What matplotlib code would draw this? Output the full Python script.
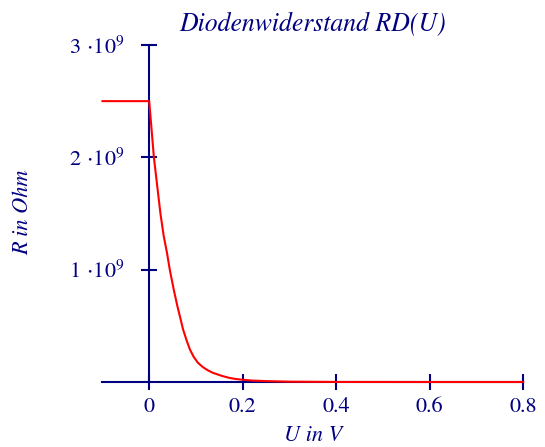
import matplotlib
matplotlib.use("Agg")
import matplotlib.pyplot as plt

# Data (R in units of 1e9 Ohm)
U = [-0.1, 0.0, 0.005, 0.010, 0.017, 0.024, 0.031, 0.038, 0.044, 0.0526, 0.060,
     0.0668, 0.0723, 0.080, 0.087, 0.095, 0.104, 0.115, 0.125, 0.136, 0.155,
     0.172, 0.185, 0.200, 0.220, 0.25, 0.30, 0.40, 0.60, 0.80]
R = [2.5, 2.5, 2.25, 2.0, 1.75, 1.50, 1.30, 1.15, 1.0, 0.82, 0.68,
     0.565, 0.47, 0.37, 0.29, 0.225, 0.172, 0.132, 0.105, 0.082, 0.055,
     0.036, 0.027, 0.020, 0.013, 0.008, 0.003, 0.0005, 0.0, 0.0]
R_ohm = [r * 1e9 for r in R]

xticks = [0, 0.2, 0.4, 0.6, 0.8]
xticklabels = ["0", "0.2", "0.4", "0.6", "0.8"]
yticks = [1e9, 2e9, 3e9]
yticklabels = [r"$1\,\cdot\!10^9$", r"$2\,\cdot\!10^9$", r"$3\,\cdot\!10^9$"]

navy = "#000080"
plt.rcParams['font.family'] = ['STIXGeneral', 'Liberation Serif', 'DejaVu Serif']
plt.rcParams['mathtext.fontset'] = 'stix'

fig = plt.figure(figsize=(5.45, 4.47), dpi=100)
ax = fig.add_axes([0.188, 0.1454, 0.772, 0.754])

ax.plot(U, R_ohm, color="red", lw=1.5, zorder=5, clip_on=False)

ax.set_xlim(-0.1, 0.8)
ax.set_ylim(0, 3e9)

for s in ["top", "right"]:
    ax.spines[s].set_visible(False)
ax.spines["left"].set_position(("data", 0))
ax.spines["left"].set_color(navy)
ax.spines["bottom"].set_color(navy)
ax.spines["left"].set_linewidth(1.5)
ax.spines["bottom"].set_linewidth(1.5)

ax.set_xticks(xticks)
ax.set_xticklabels(xticklabels)
ax.set_yticks(yticks)
ax.set_yticklabels(yticklabels)
ax.tick_params(axis="both", direction="inout", length=12, width=1.5,
               color=navy, labelcolor=navy, labelsize=16)
ax.tick_params(axis="x", pad=5)
ax.tick_params(axis="y", pad=12)

ax.set_title("Diodenwiderstand RD(U)", color=navy, fontsize=18.5,
             style="italic", pad=10)
ax.set_xlabel("U in V", color=navy, fontsize=16, style="italic", labelpad=6)
fig.text(0.042, 0.525, "R in Ohm", color=navy, fontsize=16, style="italic",
         rotation=90, ha="center", va="center")

fig.savefig("out.png", dpi=100)
